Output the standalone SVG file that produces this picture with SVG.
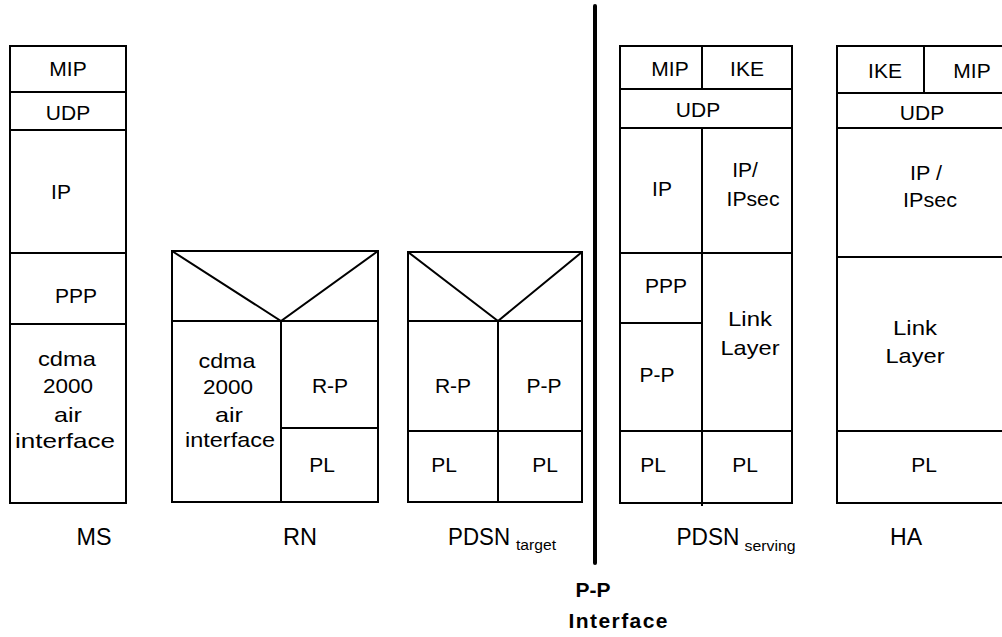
<svg xmlns="http://www.w3.org/2000/svg" width="1002" height="637" viewBox="0 0 1002 637">
<style>
.box{fill:none;stroke:#000;stroke-width:2}
.ln{stroke:#000;stroke-width:2;fill:none}
text{font-family:"Liberation Sans",Arial,sans-serif;font-size:21px;fill:#000;text-anchor:middle}
.lbl{font-size:23px}
.sub{font-size:14px}
.bold{font-weight:bold}
</style>
<rect width="1002" height="637" fill="#fff"/>
<g id="ms">
<rect class="box" x="10" y="46" width="116" height="457"/>
<path class="ln" d="M10 92H126M10 130H126M10 253H126M10 324H126"/>
<text x="68" y="76">MIP</text>
<text x="68" y="120">UDP</text>
<text x="61" y="199">IP</text>
<text x="76" y="303">PPP</text>
<text x="67" y="366" textLength="58" lengthAdjust="spacingAndGlyphs">cdma</text>
<text x="68" y="393" textLength="50" lengthAdjust="spacingAndGlyphs">2000</text>
<text x="68" y="422" textLength="28" lengthAdjust="spacingAndGlyphs">air</text>
<text x="65" y="448" textLength="100" lengthAdjust="spacingAndGlyphs">interface</text>
<text class="lbl" x="94" y="545" textLength="35" lengthAdjust="spacingAndGlyphs">MS</text>
</g>
<g id="rn">
<rect class="box" x="172" y="251" width="206" height="251"/>
<path class="ln" d="M172 321H378M281 321V502M281 428H378M172 251L281 321L378 251"/>
<text x="227" y="368" textLength="57" lengthAdjust="spacingAndGlyphs">cdma</text>
<text x="228" y="394" textLength="50" lengthAdjust="spacingAndGlyphs">2000</text>
<text x="229" y="422" textLength="28" lengthAdjust="spacingAndGlyphs">air</text>
<text x="230" y="447" textLength="90" lengthAdjust="spacingAndGlyphs">interface</text>
<text x="330" y="393">R-P</text>
<text x="322" y="472">PL</text>
<text class="lbl" x="300" y="545" textLength="34" lengthAdjust="spacingAndGlyphs">RN</text>
</g>
<g id="pdsn-target">
<rect class="box" x="408" y="252" width="174" height="250"/>
<path class="ln" d="M408 321H582M498 321V502M408 431H582M408 252L498 321L582 252"/>
<text x="453" y="393">R-P</text>
<text x="544" y="393">P-P</text>
<text x="444" y="472">PL</text>
<text x="545" y="472">PL</text>
<text class="lbl" x="479" y="545" textLength="62" lengthAdjust="spacingAndGlyphs">PDSN</text>
<text class="sub" x="536" y="550" textLength="40" lengthAdjust="spacingAndGlyphs">target</text>
</g>
<g id="pdsn-serving">
<rect class="box" x="620" y="46" width="172" height="457"/>
<path class="ln" d="M702 46V89M620 89H792M620 128H792M702 128V506M620 253H792M620 323H702M620 431H792"/>
<text x="670" y="76">MIP</text>
<text x="747" y="76">IKE</text>
<text x="698" y="117">UDP</text>
<text x="662" y="196">IP</text>
<text x="745" y="177">IP/</text>
<text x="753" y="206" textLength="53" lengthAdjust="spacingAndGlyphs">IPsec</text>
<text x="666" y="293">PPP</text>
<text x="657" y="382">P-P</text>
<text x="750" y="326" textLength="44" lengthAdjust="spacingAndGlyphs">Link</text>
<text x="750" y="355" textLength="59" lengthAdjust="spacingAndGlyphs">Layer</text>
<text x="653" y="472">PL</text>
<text x="745" y="472">PL</text>
<text class="lbl" x="708" y="545" textLength="63" lengthAdjust="spacingAndGlyphs">PDSN</text>
<text class="sub" x="770" y="551" textLength="51" lengthAdjust="spacingAndGlyphs">serving</text>
</g>
<g id="ha">
<rect class="box" x="837" y="46" width="175" height="457"/>
<path class="ln" d="M924 46V93M837 93H1012M837 128H1012M837 257H1012M837 431H1012"/>
<text x="885" y="78">IKE</text>
<text x="972" y="78">MIP</text>
<text x="922" y="120">UDP</text>
<text x="926" y="180" textLength="32" lengthAdjust="spacingAndGlyphs">IP /</text>
<text x="930" y="207" textLength="54" lengthAdjust="spacingAndGlyphs">IPsec</text>
<text x="915" y="335" textLength="44" lengthAdjust="spacingAndGlyphs">Link</text>
<text x="915" y="363" textLength="59" lengthAdjust="spacingAndGlyphs">Layer</text>
<text x="924" y="472">PL</text>
<text class="lbl" x="906" y="545" textLength="32" lengthAdjust="spacingAndGlyphs">HA</text>
</g>
<g id="connectors">
<line x1="595" y1="6" x2="595" y2="563" stroke="#000" stroke-width="4" stroke-linecap="round"/>
</g>
<g id="pp-interface-label">
<text class="bold" x="593" y="597">P-P</text>
<text class="bold" x="618" y="628" textLength="99" lengthAdjust="spacing">Interface</text>
</g>
</svg>
